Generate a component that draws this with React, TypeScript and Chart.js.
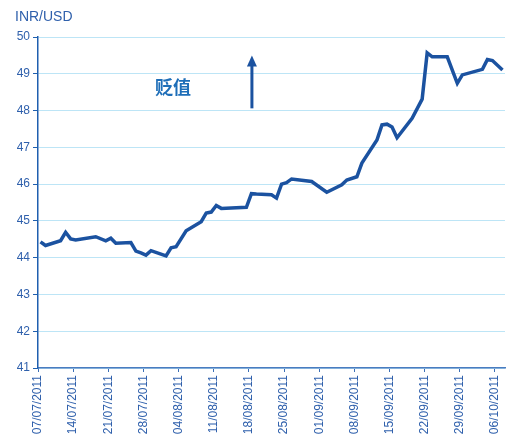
import React, { useEffect, useRef } from 'react';
import { Chart, registerables } from 'chart.js';

Chart.register(...registerables);

// Days counted from 07/07/2011 (trading days where the line bends)
const tradingDays = [
  0, 1, 4, 5, 6, 7, 11, 13, 14, 15, 18, 19, 20, 21, 22, 25, 26, 27, 29,
  32, 33, 34, 35, 36, 41, 42, 43, 46, 47, 48, 49, 50, 54, 57, 60, 61, 63,
  64, 67, 68, 69, 70, 71, 74, 76, 77, 78, 81, 83, 84, 88, 89, 90, 92,
];
const inrUsd = [
  44.43, 44.33, 44.46, 44.69, 44.51, 44.48, 44.57, 44.46, 44.53, 44.39,
  44.41, 44.18, 44.13, 44.07, 44.19, 44.05, 44.27, 44.3, 44.73,
  44.98, 45.21, 45.24, 45.42, 45.34, 45.37, 45.74, 45.73, 45.71, 45.62,
  46.0, 46.04, 46.14, 46.07, 45.78, 45.98, 46.11, 46.2,
  46.57, 47.2, 47.61, 47.63, 47.55, 47.26, 47.79, 48.31, 49.57, 49.46,
  49.46, 48.74, 48.97, 49.12, 49.39, 49.36, 49.1,
];
const tickDays = [0, 7, 14, 21, 28, 35, 42, 49, 56, 63, 70, 77, 84, 91];
const startDate = { year: 2011, month: 7, day: 7 };
const yMin = 41;
const yMax = 50;
const yAxisTitle = 'INR/USD';
const noteText = '贬值';
const noteAt = { day: 26.4, value: 48.63 };
const arrowAt = { day: 42.1, from: 48.06, to: 49.5 };

const fmtDay = (d: number) => {
  const dt = new Date(startDate.year, startDate.month - 1, startDate.day + d);
  const p = (n: number) => String(n).padStart(2, '0');
  return `${p(dt.getDate())}/${p(dt.getMonth() + 1)}/${dt.getFullYear()}`;
};

const FONT = '"Liberation Sans", Arial, sans-serif';
const TEXT_BLUE = '#2F60AC';
const LINE_BLUE = '#1B52A0';

const overlayPlugin = {
  id: 'overlay',
  afterDatasetsDraw(chart: any) {
    const { ctx, scales } = chart;
    const x = scales.x;
    const y = scales.y;
    ctx.save();
    ctx.fillStyle = TEXT_BLUE;
    ctx.font = `14px ${FONT}`;
    ctx.textAlign = 'left';
    ctx.textBaseline = 'alphabetic';
    ctx.fillText(yAxisTitle, 15, 21);
    ctx.fillStyle = '#1E6EB8';
    ctx.font = 'bold 18px "Noto Sans CJK SC", sans-serif';
    ctx.textAlign = 'center';
    ctx.textBaseline = 'middle';
    ctx.fillText(noteText, x.getPixelForValue(noteAt.day), y.getPixelForValue(noteAt.value));
    const ax = x.getPixelForValue(arrowAt.day);
    const y0 = y.getPixelForValue(arrowAt.from);
    const y1 = y.getPixelForValue(arrowAt.to);
    ctx.strokeStyle = LINE_BLUE;
    ctx.fillStyle = LINE_BLUE;
    ctx.lineWidth = 3;
    ctx.beginPath();
    ctx.moveTo(ax, y0);
    ctx.lineTo(ax, y1 + 8);
    ctx.stroke();
    ctx.beginPath();
    ctx.moveTo(ax, y1);
    ctx.lineTo(ax - 5, y1 + 11);
    ctx.lineTo(ax + 5, y1 + 11);
    ctx.closePath();
    ctx.fill();
    ctx.restore();
  },
};

export default function App() {
  const ref = useRef<HTMLCanvasElement | null>(null);

  useEffect(() => {
    if (!ref.current) return;
    const chart = new Chart(ref.current, {
      type: 'line',
      data: {
        datasets: [
          {
            data: tradingDays.map((d, i) => ({ x: d, y: inrUsd[i] })),
            borderColor: LINE_BLUE,
            borderWidth: 3.5,
            pointRadius: 0,
            tension: 0,
            fill: false,
          },
        ],
      },
      options: {
        animation: false,
        responsive: false,
        devicePixelRatio: 1,
        layout: { padding: { top: 37, right: 12, left: 0, bottom: 0 } },
        plugins: { legend: { display: false }, tooltip: { enabled: false } },
        scales: {
          x: {
            type: 'linear',
            min: -0.5,
            max: 92.5,
            afterBuildTicks: (axis: any) => {
              axis.ticks = tickDays.map((d) => ({ value: d - 0.5 }));
            },
            afterFit: (axis: any) => {
              axis.height = 78;
            },
            ticks: {
              autoSkip: false,
              maxRotation: 90,
              minRotation: 90,
              color: TEXT_BLUE,
              font: { family: FONT, size: 12 },
              padding: 3,
              callback: (v: any) => fmtDay(Math.round(Number(v) + 0.5)),
            },
            grid: {
              drawOnChartArea: false,
              drawTicks: true,
              tickLength: 4,
              tickColor: '#3B6FB6',
            },
            border: { color: '#4A7CC0', width: 1.5 },
          },
          y: {
            min: yMin,
            max: yMax,
            afterFit: (axis: any) => {
              axis.width = 38;
            },
            ticks: {
              stepSize: 1,
              color: TEXT_BLUE,
              font: { family: FONT, size: 12 },
              padding: 3,
            },
            grid: {
              color: '#BDE5F6',
              lineWidth: 1,
              tickLength: 5,
              tickColor: '#1F5FAF',
            },
            border: { color: '#1F5FAF', width: 1.5 },
          },
        },
      },
      plugins: [overlayPlugin],
    });
    return () => chart.destroy();
  }, []);

  return (
    <div style={{ position: 'fixed', left: 0, top: 0, width: 517, height: 446, background: '#fff' }}>
      <canvas ref={ref} width={517} height={446} style={{ width: 517, height: 446, display: 'block' }} />
    </div>
  );
}
